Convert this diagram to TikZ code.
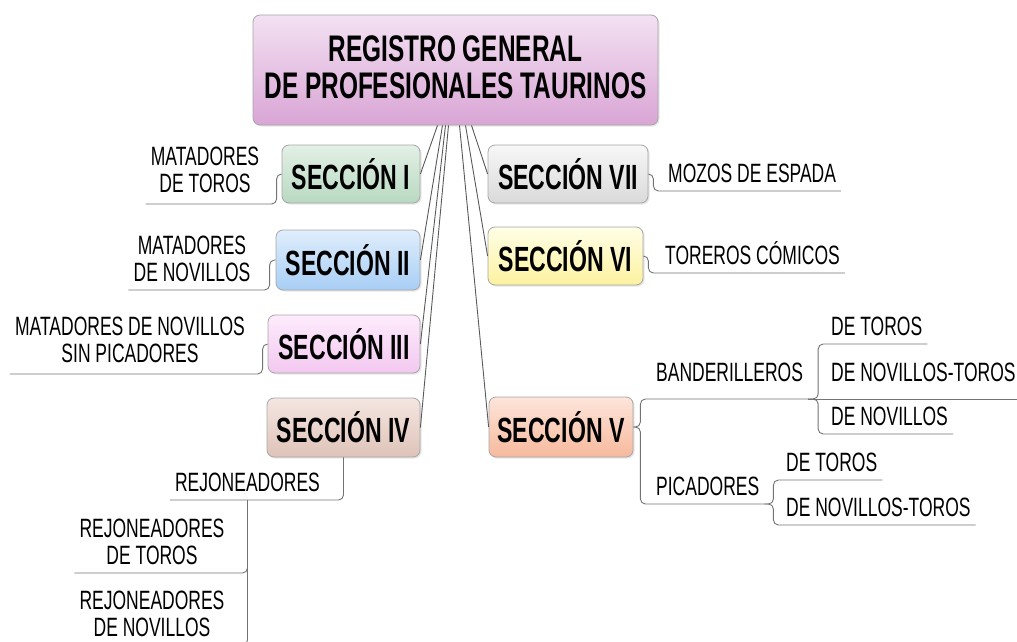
\documentclass[tikz,border=0pt]{standalone}
\usepackage{fontspec}
\setmainfont[FakeStretch=0.66]{Liberation Sans}
\usepackage{tikz}
\usetikzlibrary{calc,shadows}

\definecolor{rootT}{HTML}{F3E1F2}
\definecolor{rootB}{HTML}{D9A5D5}
\definecolor{greenT}{HTML}{E3F0E6}
\definecolor{greenB}{HTML}{B8D9C1}
\definecolor{blueT}{HTML}{E0EEFC}
\definecolor{blueB}{HTML}{A8CEF5}
\definecolor{pinkT}{HTML}{FDEBFC}
\definecolor{pinkB}{HTML}{F3C8F0}
\definecolor{brownT}{HTML}{F4E6E1}
\definecolor{brownB}{HTML}{DEC3B8}
\definecolor{salmonT}{HTML}{FDE5DA}
\definecolor{salmonB}{HTML}{F7B99D}
\definecolor{yellowT}{HTML}{FFFEE6}
\definecolor{yellowB}{HTML}{FDF2A0}
\definecolor{greyT}{HTML}{F7F7F7}
\definecolor{greyB}{HTML}{DADADA}

\begin{document}
\begin{tikzpicture}[x=1pt,y=-1pt,
    box/.style={draw=black!35,rounded corners=7pt,line width=0.8pt,align=center,inner sep=0pt,
      drop shadow={opacity=0.2,shadow xshift=1.5pt,shadow yshift=-1.5pt}},
    sec/.style={box,font=\fontsize{35}{37}\selectfont\bfseries,minimum height=58pt},
    leaf/.style={align=center,inner xsep=5pt,inner ysep=0pt,text depth=8pt,
      font=\fontsize{26.5}{27}\selectfont},
    link/.style={draw=black!65,line width=0.9pt},
    sub/.style={draw=black!55,line width=0.9pt,rounded corners=5pt}]
  \useasboundingbox (0,0) rectangle (1017,642);

  % central topic
  \node[box,minimum width=405pt,minimum height=110pt,top color=rootT,bottom color=rootB,
    font=\fontsize{37}{37}\selectfont\bfseries,text depth=6pt] (root) at (455.5,70)
    {REGISTRO GENERAL\\DE PROFESIONALES TAURINOS};

  % sections, left
  \node[sec,minimum width=138pt,top color=greenT,bottom color=greenB] (s1) at (351,174) {SECCIÓN I};
  \node[sec,minimum width=144pt,minimum height=60pt,top color=blueT,bottom color=blueB] (s2) at (348,260) {SECCIÓN II};
  \node[sec,minimum width=152pt,top color=pinkT,bottom color=pinkB] (s3) at (344,344) {SECCIÓN III};
  \node[sec,minimum width=153pt,minimum height=59pt,top color=brownT,bottom color=brownB] (s4) at (343.5,427.5) {SECCIÓN IV};
  % sections, right
  \node[sec,minimum width=160pt,top color=greyT,bottom color=greyB] (s7) at (568,174) {SECCIÓN VII};
  \node[sec,minimum width=155pt,top color=yellowT,bottom color=yellowB] (s6) at (565.5,256) {SECCIÓN VI};
  \node[sec,minimum width=144pt,minimum height=60pt,top color=salmonT,bottom color=salmonB] (s5) at (561,427) {SECCIÓN V};

  \draw[link] ($(root.south)+(-18,0)$) -- (s1.east);
  \draw[link] ($(root.south)+(-13,0)$) -- (s2.east);
  \draw[link] ($(root.south)+(-10,0)$) -- (s3.east);
  \draw[link] ($(root.south)+(-7,0)$) -- (s4.east);
  \draw[link] ($(root.south)+(16,0)$) -- (s7.west);
  \draw[link] ($(root.south)+(10,0)$) -- (s6.west);
  \draw[link] ($(root.south)+(4,0)$) -- (s5.west);

  % left leaves
  \node[leaf,text depth=11pt,anchor=south] (t1) at (205,204) {MATADORES\\DE TOROS};
  \node[leaf,anchor=south] (t2) at (192,290) {MATADORES\\DE NOVILLOS};
  \node[leaf,text depth=11pt,anchor=south] (t3) at (130,374) {MATADORES DE NOVILLOS\\SIN PICADORES};
  \node[leaf,anchor=south] (rej) at (247.5,500) {REJONEADORES};
  \node[leaf,anchor=south] (rt) at (152,573) {REJONEADORES\\DE TOROS};
  \node[leaf,anchor=south] (rn) at (152,645) {REJONEADORES\\DE NOVILLOS};

  \draw[sub] (s1.west) -- ++(-5,0) |- (t1.south west);
  \draw[sub] (s2.west) -- ++(-6,0) |- (t2.south west);
  \draw[sub] (s3.west) -- ++(-5,0) |- (t3.south west);
  \draw[sub] (s4.south) |- (rej.south west);
  \draw[sub] (rej.south) |- (rt.south west);
  \draw[sub] (rej.south) |- (rn.south west);

  % right leaves
  \node[leaf,anchor=south west] (moz) at (663,191) {MOZOS DE ESPADA};
  \node[leaf,anchor=south west] (tor) at (660,273) {TOREROS CÓMICOS};
  \node[leaf,text depth=17pt,anchor=south west] (ban) at (651,399) {BANDERILLEROS};
  \node[leaf,anchor=south west] (pic) at (651,504) {PICADORES};
  \node[leaf,anchor=south west] (bt) at (826,344) {DE TOROS};
  \node[leaf,text depth=17pt,anchor=south west] (bnt) at (826,399) {DE NOVILLOS-TOROS};
  \node[leaf,anchor=south west] (bn) at (826,434) {DE NOVILLOS};
  \node[leaf,anchor=south west] (pt) at (781,480) {DE TOROS};
  \node[leaf,anchor=south west] (pnt) at (781,525) {DE NOVILLOS-TOROS};

  \draw[sub] (s7.east) -- ++(5,0) |- (moz.south east);
  \draw[sub] (s6.east) -- ++(5,0) |- (tor.south east);
  \draw[sub] (s5.east) -- ++(7,0) |- (ban.south east);
  \draw[sub] (s5.east) -- ++(7,0) |- (pic.south east);
  \draw[sub] (ban.south east) -- ++(10,0) |- (bt.south east);
  \draw[sub] (ban.south east) -- (bnt.south east);
  \draw[sub] (ban.south east) -- ++(10,0) |- (bn.south east);
  \draw[sub] (pic.south east) -- ++(9,0) |- (pt.south east);
  \draw[sub] (pic.south east) -- ++(9,0) |- (pnt.south east);
\end{tikzpicture}
\end{document}
